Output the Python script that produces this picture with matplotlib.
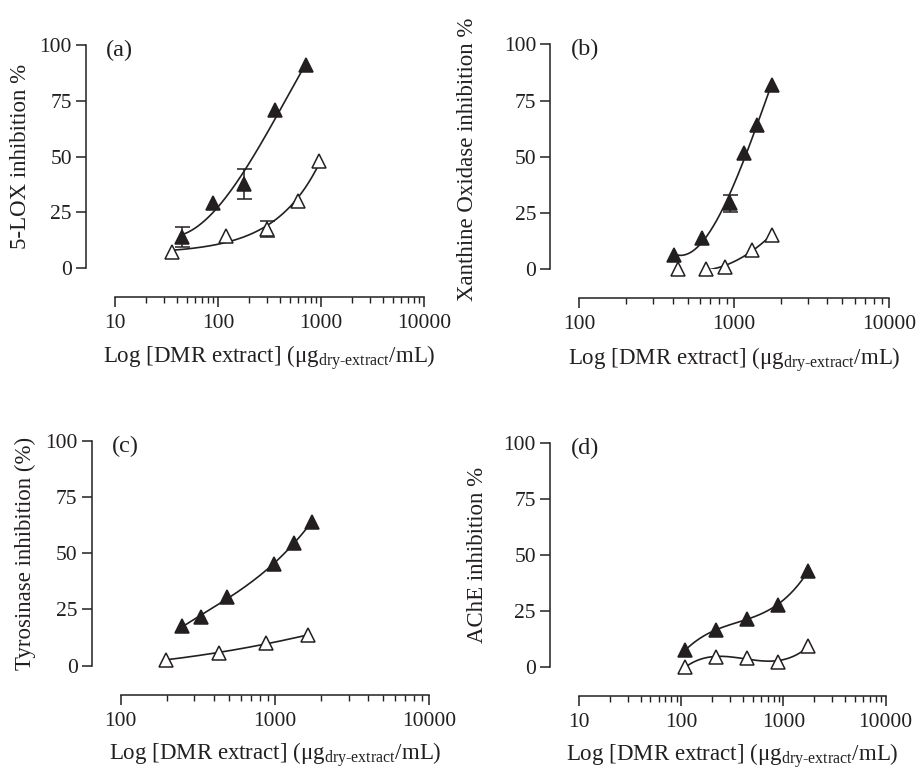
import numpy as np
import matplotlib
matplotlib.use('Agg')
import matplotlib.pyplot as plt
from matplotlib.ticker import FixedLocator, LogLocator, NullFormatter, FixedFormatter

plt.rcParams['font.family'] = ['Liberation Serif', 'DejaVu Serif']
plt.rcParams['mathtext.fontset'] = 'custom'
plt.rcParams['mathtext.rm'] = 'Liberation Serif'
plt.rcParams['mathtext.it'] = 'Liberation Serif:italic'

INK = '#231f20'
W, H, DPI = 917, 771, 100

# ── data ─────────────────────────────────────────────────────────────────────
lox_x_fill = [45, 90, 180, 360, 720]
lox_y_fill = [14, 29, 37.6, 71, 91]
lox_e_fill = [4.5, 0, 6.6, 0, 0]
lox_x_open = [36, 120, 300, 600, 960]
lox_y_open = [7, 14.5, 17.4, 30.2, 47.9]
lox_e_open = [0, 0, 3.6, 0, 0]

xo_x_fill = [410, 620, 940, 1150, 1400, 1750]
xo_y_fill = [6.4, 13.8, 29.3, 51.6, 64.1, 81.9]
xo_e_fill = [0, 0, 3.7, 0, 0, 0]
xo_x_open = [437, 656, 875, 1312, 1750]
xo_y_open = [0, 0, 1.2, 8.6, 15.3]
xo_e_open = [0, 0, 0, 0, 0]

tyr_x_fill = [250, 330, 490, 990, 1330, 1730]
tyr_y_fill = [17.6, 21.5, 30.5, 45.3, 54.5, 64]
tyr_x_open = [196, 433, 870, 1640]
tyr_y_open = [2.7, 5.6, 10, 13.6]

ache_x = [109, 219, 437, 875, 1750]
ache_y_fill = [7.5, 16.4, 21.6, 27.7, 43]
ache_y_open = [0, 4.3, 4.2, 2.4, 9.2]

y_ticks = [0, 25, 50, 75, 100]
XLABEL = 'Log [DMR extract] (μg$_{\\mathrm{dry\u2010extract}}$/mL)'

fig = plt.figure(figsize=(W / DPI, H / DPI), dpi=DPI)


def px_axes(left, top, right, bottom):
    return fig.add_axes([left / W, 1 - bottom / H, (right - left) / W, (bottom - top) / H])


def fit_curve(ax, x, y, deg, space):
    # polynomial fit of the points, in log-x or plain x
    fx = np.log10(x) if space == 'log' else x
    coef = np.polyfit(fx, y, deg)
    lx = np.linspace(np.log10(x.min()), np.log10(x.max()), 200)
    xs = 10 ** lx
    fs = lx if space == 'log' else xs
    ax.plot(xs, np.polyval(coef, fs), color=INK, lw=1.2, zorder=2)


def series(ax, x, y, err, filled, deg, space='log'):
    x = np.asarray(x, float)
    y = np.asarray(y, float)
    fit_curve(ax, x, y, deg, space)
    if err is not None:
        e = np.asarray(err, float)
        m = e > 0
        if m.any():
            ax.errorbar(x[m], y[m], yerr=e[m], fmt='none', ecolor=INK,
                        elinewidth=1.1, capsize=5.4, capthick=1.1, zorder=3,
                        clip_on=False)
    ax.plot(x, y, ls='none', marker='^', ms=10.5,
            mfc=INK if filled else 'white', mec=INK, mew=1.1,
            zorder=4, clip_on=False)


def style(ax, xmin, xmax, label, ylabel, ylab_xy, xlab_y):
    ax.set_xscale('log')
    ax.set_xlim(xmin, xmax)
    ax.set_ylim(0, 100)
    ax.set_yticks(y_ticks)
    majors = [v for v in [10, 100, 1000, 10000] if xmin <= v <= xmax]
    ax.xaxis.set_major_locator(FixedLocator(majors))
    ax.xaxis.set_major_formatter(FixedFormatter([str(v) for v in majors]))
    ax.xaxis.set_minor_locator(LogLocator(base=10, subs=np.arange(2, 10)))
    ax.xaxis.set_minor_formatter(NullFormatter())
    for s in ['top', 'right']:
        ax.spines[s].set_visible(False)
    off = 29 * 72 / DPI
    ax.spines['left'].set_position(('outward', off))
    ax.spines['bottom'].set_position(('outward', off))
    for s in ['left', 'bottom']:
        ax.spines[s].set_linewidth(1.1)
        ax.spines[s].set_color(INK)
    ax.tick_params(which='major', direction='out', length=7.2, width=1.1,
                   colors=INK, labelsize=15.5, pad=3)
    ax.tick_params(which='minor', direction='out', length=4.5, width=1.0, colors=INK)
    ax.tick_params(axis='x', which='major', pad=5)
    ax.patch.set_visible(False)
    ax.set_ylabel(ylabel, fontsize=16.5, color=INK)
    ax.yaxis.set_label_coords(*ylab_xy)
    ax.yaxis.label.set_va('center')
    ax.set_xlabel(XLABEL, fontsize=16.5, color=INK)
    ax.xaxis.set_label_coords(0.5, xlab_y)
    ax.xaxis.label.set_va('center')
    ax.text(-0.028, 0.975, label, transform=ax.transAxes, fontsize=17.5,
            color=INK, ha='left', va='center')


# (a) 5-LOX
ax = px_axes(115, 45, 424, 268)
series(ax, lox_x_fill, lox_y_fill, lox_e_fill, True, 3)
series(ax, lox_x_open, lox_y_open, lox_e_open, False, 1, 'lin')
style(ax, 10, 10000, '(a)', '5-LOX inhibition %', (-0.307, 0.5), -0.40)

# (b) Xanthine oxidase
ax = px_axes(579.3, 44.3, 889, 269.3)
series(ax, xo_x_fill, xo_y_fill, xo_e_fill, True, 3)
series(ax, xo_x_open, xo_y_open, xo_e_open, False, 3)
style(ax, 100, 10000, '(b)', 'Xanthine Oxidase inhibition %', (-0.36, 0.49), -0.40)

# (c) Tyrosinase
ax = px_axes(120.7, 440.7, 429.3, 665.7)
series(ax, tyr_x_fill, tyr_y_fill, None, True, 3)
series(ax, tyr_x_open, tyr_y_open, None, False, 2)
style(ax, 100, 10000, '(c)', 'Tyrosinase inhibition (%)', (-0.31, 0.5), -0.395)

# (d) AChE
ax = px_axes(579, 443.3, 885.7, 667)
series(ax, ache_x, ache_y_fill, None, True, 3)
series(ax, ache_x, ache_y_open, None, False, 3)
style(ax, 10, 10000, '(d)', 'AChE inhibition %', (-0.33, 0.5), -0.395)

fig.savefig('out.png', dpi=DPI, facecolor='white')
